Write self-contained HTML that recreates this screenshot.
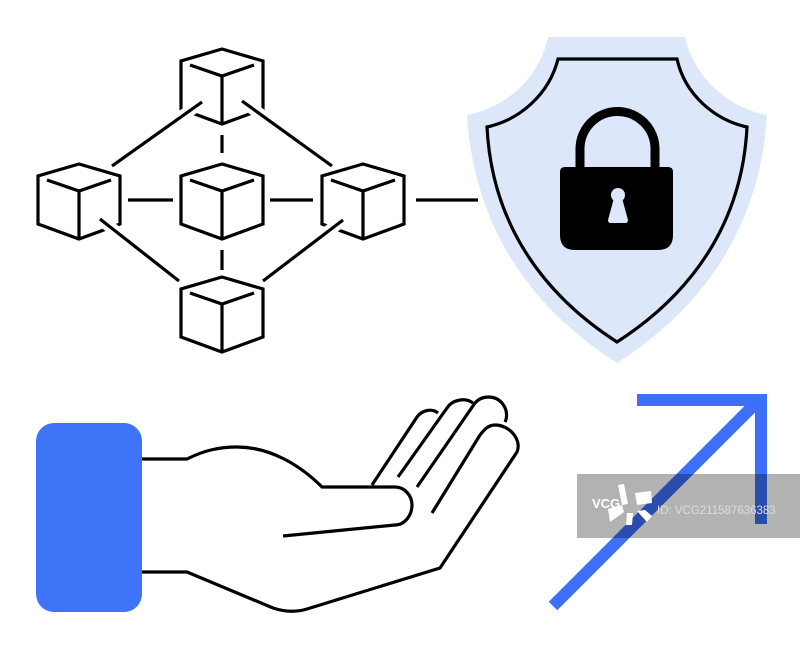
<!DOCTYPE html>
<html><head><meta charset="utf-8"><style>
html,body{margin:0;padding:0;background:#fff;}
svg{display:block}
</style></head><body>
<svg width="800" height="649" viewBox="0 0 800 649" xmlns="http://www.w3.org/2000/svg">
<defs>
<g id="cube">
<path d="M0,0 L41,12 L41,60 L0,75 L-41,60 L-41,12 Z" fill="#fff" stroke="#000" stroke-width="3.2" stroke-linejoin="miter"/>
<path d="M-32,16 L0,27 L32,16 M0,27 L0,75" fill="none" stroke="#000" stroke-width="3.2"/>
</g>
</defs>
<use href="#cube" x="222" y="49"/>
<use href="#cube" x="79" y="164"/>
<use href="#cube" x="222" y="164"/>
<use href="#cube" x="363" y="164"/>
<use href="#cube" x="222" y="277"/>
<g stroke="#fff" stroke-width="12" fill="none">
<path d="M202,102 L112,166 M242,101 L332,166 M100,219 L179,281 M343,220 L263,281 M222,128 L222,155"/>
</g>
<g stroke="#000" stroke-width="3.2" fill="none">
<path d="M202,102 L112,166 M242,101 L332,166 M100,219 L179,281 M343,220 L263,281"/>
<path d="M128,200 L173,200 M270,200 L313,200 M416,200 L478,200"/>
<path d="M222,135 L222,153 M222,250 L222,270"/>
</g>
<path d="M548,37 L685,37 C695,80 730,108 767,115 C760,230 700,310 617,363 C534,310 474,230 467,115 C504,108 539,80 548,37 Z" fill="#dde7fa"/>
<path d="M558,59 L677,59 C685,95 715,120 747,127 C742,225 690,295 617,342 C544,295 492,225 487,127 C519,120 549,95 558,59 Z" fill="#dde7fa" stroke="#000" stroke-width="3.2"/>
<path d="M580,167 L580,149 A37.5,37.5 0 0 1 655,149 L655,167" fill="none" stroke="#000" stroke-width="9"/>
<path d="M565,167 L668,167 Q673,167 673,172 L673,235 Q673,250 658,250 L575,250 Q560,250 560,235 L560,172 Q560,167 565,167 Z" fill="#000"/>
<circle cx="618" cy="195" r="7" fill="#dde7fa"/>
<path d="M614,198 L622,198 L628,220 Q628,223 625,223 L611,223 Q608,223 608,220 Z" fill="#dde7fa"/>
<rect x="36" y="423" width="106" height="189" rx="18" fill="#3d74f8"/>
<g fill="none" stroke="#000" stroke-width="3.2" stroke-linejoin="round" stroke-linecap="butt">
<path d="M142,459 L187,459 C205,450 220,447 237,447 C270,447 300,465 322,487 L395,487 C405,487 412,496 412,505 C412,515 405,525 395,525 L283,536"/>
<path d="M142,572 L187,572 L273,608 C285,612 297,612 307,609 L440,568 L517,452 C522,440 510,425 495,425 C488,425 484,430 480,435 L432,513"/>
<path d="M417,487 L475,403 C482,395 495,395 502,403 C508,410 507,418 505,422"/>
<path d="M398,477 L447,408 C452,400 465,397 473,403"/>
<path d="M372,485 L417,417 C422,410 432,408 438,413"/>
</g>
<g stroke="#3d6ff8" stroke-width="12" fill="none">
<path d="M553,606 L757,402"/>
<path d="M637,400 L761,400 L761,524"/>
</g>
<rect x="577" y="474" width="223" height="64" fill="rgba(0,0,0,0.3)"/>
<text x="592" y="508" font-family="Liberation Sans, sans-serif" font-weight="bold" font-size="13" fill="#fff">VCG</text>
<g fill="#fff">
<path d="M618,485 L624,484 L628,504 L622,505 Z"/>
<path d="M635,493 L651,491 L652,503 L637,505 Z"/>
<path d="M637,511 L645,510 L652,516 L647,522 Z"/>
<path d="M627,513 L633,513 L632,525 L626,525 Z"/>
<path d="M608,509 L622,505 L624,512 L610,522 Z"/>
</g>
<text x="657" y="514" font-family="Liberation Sans, sans-serif" font-size="11.5" fill="#dedede">ID: VCG211587636383</text>
</svg>
</body></html>
